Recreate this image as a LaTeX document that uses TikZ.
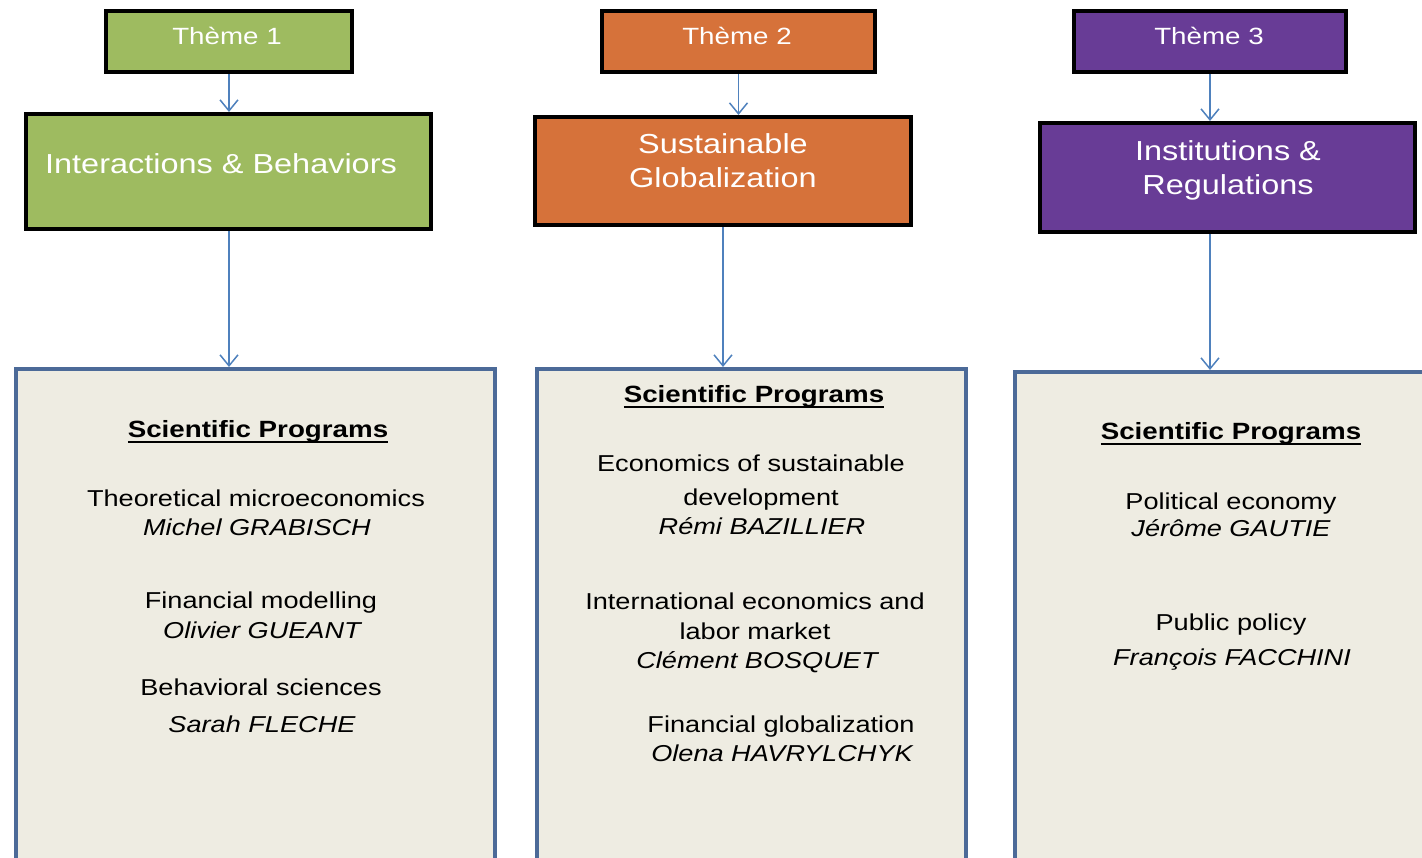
\documentclass[tikz,border=0pt]{standalone}
\usepackage{fontspec}
\setmainfont{Liberation Sans}[FakeStretch=1.18]
\usetikzlibrary{arrows.meta}
\definecolor{tgreen}{RGB}{158,187,96}
\definecolor{torange}{RGB}{214,114,58}
\definecolor{tpurple}{RGB}{104,60,150}
\definecolor{pfill}{RGB}{238,236,226}
\definecolor{pborder}{RGB}{76,106,152}
\definecolor{arr}{RGB}{79,129,189}
\newcommand{\ulhead}[1]{\setbox0\hbox{#1}\rlap{\rule[-5pt]{\wd0}{1.8pt}}\box0}
\begin{document}
\begin{tikzpicture}[x=1pt,y=-1pt,
  themebox/.style={draw=black,line width=4pt,inner sep=0pt},
  bigbox/.style={draw=black,line width=4pt,inner sep=0pt},
  progbox/.style={draw=pborder,line width=4pt,fill=pfill,inner sep=0pt,anchor=north west},
  txt/.style={anchor=mid,inner sep=0pt,yshift=-6pt},
  wt/.style={txt,text=white,font=\fontsize{23.5}{27}\selectfont},
  wbig/.style={txt,text=white,font=\fontsize{27.5}{33}\selectfont},
  hd/.style={txt,font=\fontsize{23.5}{27}\selectfont\bfseries},
  tx/.style={txt,font=\fontsize{23}{27}\selectfont},
  nm/.style={txt,font=\fontsize{23}{27}\selectfont\itshape},
  conn/.style={draw=arr,line width=1.5pt,-{Straight Barb[length=11pt,width=18pt,line width=1.5pt]}}
]
\useasboundingbox (0,0) rectangle (1422,857);
\clip (0,0) rectangle (1422,857);
% theme boxes
\node[themebox,fill=tgreen,minimum width=246pt,minimum height=61pt] (t1) at (229,41.5) {};
\node[themebox,fill=torange,minimum width=273pt,minimum height=61pt] (t2) at (738.5,41.5) {};
\node[themebox,fill=tpurple,minimum width=272pt,minimum height=61pt] (t3) at (1210,41.5) {};
\node[wt] (t1l) at (227,36) {Thème 1};
\node[wt] (t2l) at (737,36) {Thème 2};
\node[wt] (t3l) at (1209,36) {Thème 3};
% big boxes
\node[bigbox,fill=tgreen,minimum width=405pt,minimum height=115pt] (b1) at (228.5,171.5) {};
\node[bigbox,fill=torange,minimum width=376pt,minimum height=108pt] (b2) at (723,171) {};
\node[bigbox,fill=tpurple,minimum width=375pt,minimum height=109pt] (b3) at (1227.5,177.5) {};
\node[wbig] (b1l) at (221,165) {Interactions \& Behaviors};
\node[wbig] (b2a) at (723,145) {Sustainable};
\node[wbig] (b2b) at (723,179) {Globalization};
\node[wbig] (b3a) at (1228,152) {Institutions \&};
\node[wbig] (b3b) at (1228,186) {Regulations};
% program boxes
\node[progbox,minimum width=479pt,minimum height=540pt] (p1) at (14,367) {};
\node[progbox,minimum width=429pt,minimum height=540pt] (p2) at (535,367) {};
\node[progbox,minimum width=430pt,minimum height=540pt] (p3) at (1013,370) {};
% connectors
\draw[conn] (t1.south) -- (t1.south |- b1.north);
\draw[conn] (t2.south) -- (t2.south |- b2.north);
\draw[conn] (t3.south) -- (t3.south |- b3.north);
\draw[conn] (t1.south |- b1.south) -- (t1.south |- p1.north);
\draw[conn] (b2.south) -- (b2.south |- p2.north);
\draw[conn] (t3.south |- b3.south) -- (t3.south |- p3.north);
% box 1 texts
\node[hd] (h1) at (258,429) {\ulhead{Scientific Programs}};
\node[tx] (a1) at (256,498) {Theoretical microeconomics};
\node[nm] (a1n) at (257,527) {Michel GRABISCH};
\node[tx] (a2) at (261,600) {Financial modelling};
\node[nm] (a2n) at (262,630) {Olivier GUEANT};
\node[tx] (a3) at (261,687) {Behavioral sciences};
\node[nm] (a3n) at (262,724) {Sarah FLECHE};
% box 2 texts
\node[hd] (h2) at (754,394) {\ulhead{Scientific Programs}};
\node[tx] (c1) at (751,463) {Economics of sustainable};
\node[tx] (c1b) at (761,497) {development};
\node[nm] (c1n) at (762,526) {Rémi BAZILLIER};
\node[tx] (c2) at (755,601) {International economics and};
\node[tx] (c2b) at (755,631) {labor market};
\node[nm] (c2n) at (757,660) {Clément BOSQUET};
\node[tx] (c3) at (781,724) {Financial globalization};
\node[nm] (c3n) at (782,753) {Olena HAVRYLCHYK};
% box 3 texts
\node[hd] (h3) at (1231,431) {\ulhead{Scientific Programs}};
\node[tx] (d1) at (1231,501) {Political economy};
\node[nm] (d1n) at (1231,528) {Jérôme GAUTIE};
\node[tx] (d2) at (1231,622) {Public policy};
\node[nm] (d2n) at (1232,657) {François FACCHINI};
\end{tikzpicture}
\end{document}
